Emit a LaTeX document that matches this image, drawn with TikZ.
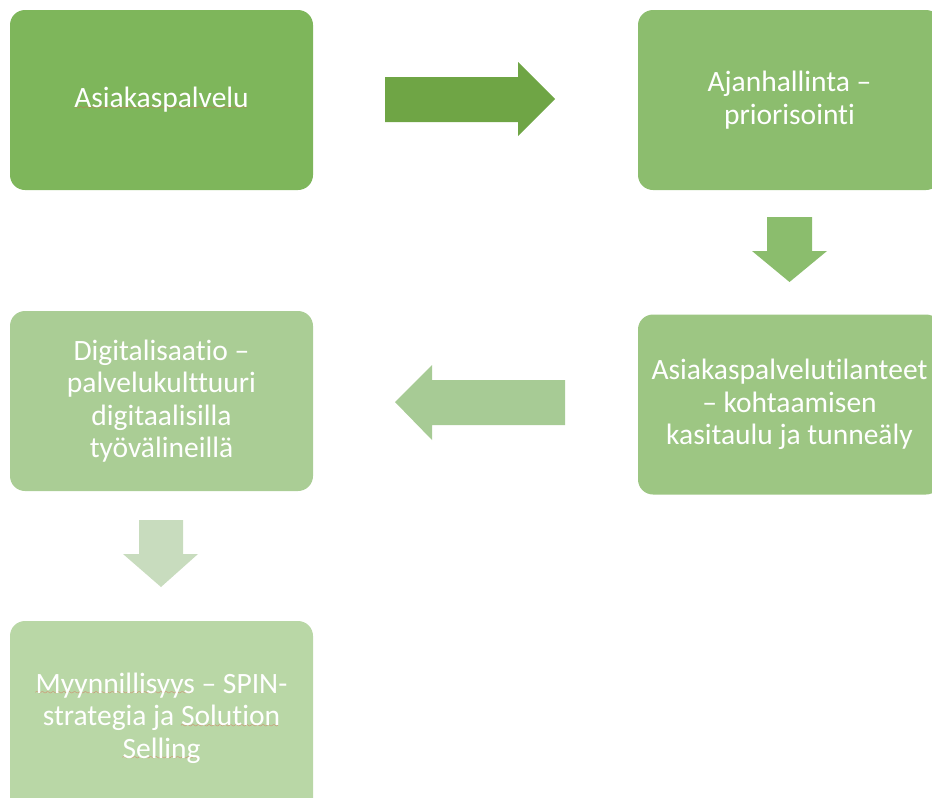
\documentclass[tikz,border=0pt]{standalone}
\usepackage{fontspec}
\setmainfont{Carlito}[Ligatures={NoCommon}]
\usepackage{xcolor}
\usetikzlibrary{positioning}

\definecolor{vihrea1}{HTML}{7EB65B}
\definecolor{vihrea2}{HTML}{8CBD6E}
\definecolor{vihrea3}{HTML}{9DC683}
\definecolor{vihrea4}{HTML}{AACD95}
\definecolor{vihrea5}{HTML}{B9D7A6}
\definecolor{nuoli1}{HTML}{6FA545}
\definecolor{nuoli2}{HTML}{8BBD6D}
\definecolor{nuoli3}{HTML}{A7CB95}
\definecolor{nuoli4}{HTML}{C8DCBE}
\definecolor{virhe}{HTML}{E0604F}

% aaltoviiva sanan alle
\font\aalto=lasy7
\newsavebox\virhebox
\newcommand{\virhe}[1]{\sbox\virhebox{#1}\rlap{\color{virhe}\lower1.5pt\hbox to \wd\virhebox{\leaders\hbox{\aalto\char58}\hfill}}\usebox\virhebox}

\begin{document}
\begin{tikzpicture}[x=1pt, y=-1pt,
	laatikko/.style={rounded corners=15pt, minimum width=303pt, minimum height=180pt,
		inner sep=0pt, text=white, align=center, font=\fontsize{29.5}{32.5}\selectfont}]
			\clip (0,0) rectangle (932,798);

			% Laatikot
			\node[laatikko, fill=vihrea1] (asiakaspalvelu) at (161.5,100) {\virhe{Asiakaspalvelu}};
			\node[laatikko, fill=vihrea2] (ajanhallinta) at (789.5,100) {Ajanhallinta --\\priorisointi};
			\node[laatikko, fill=vihrea3] (tilanteet) at (789.5,404.5) {Asiakaspalvelutilanteet\\-- kohtaamisen\\kasitaulu ja tunneäly};
			\node[laatikko, fill=vihrea4] (digitalisaatio) at (161.5,401) {Digitalisaatio --\\palvelukulttuuri\\digitaalisilla\\työvälineillä};
			\node[laatikko, fill=vihrea5, minimum height=194pt] (myynnillisyys) at (161.5,718) {\virhe{Myynnillisyys} -- SPIN-\\strategia ja \virhe{Solution}\\\virhe{Selling}};

			% Nuolet
			\fill[nuoli1] (385,77) -- (518,77) -- (518,62) -- (555,99) -- (518,136) -- (518,122) -- (385,122) -- cycle;
			\fill[nuoli2] (767,217) -- (812,217) -- (812,251) -- (827,251) -- (789.5,282) -- (752,251) -- (767,251) -- cycle;
			\fill[nuoli3] (565,380) -- (432,380) -- (432,365) -- (395,402) -- (432,440) -- (432,425) -- (565,425) -- cycle;
			\fill[nuoli4] (139,520) -- (183,520) -- (183,554) -- (198,554) -- (161,587) -- (123,554) -- (139,554) -- cycle;
		\end{tikzpicture}
\end{document}
